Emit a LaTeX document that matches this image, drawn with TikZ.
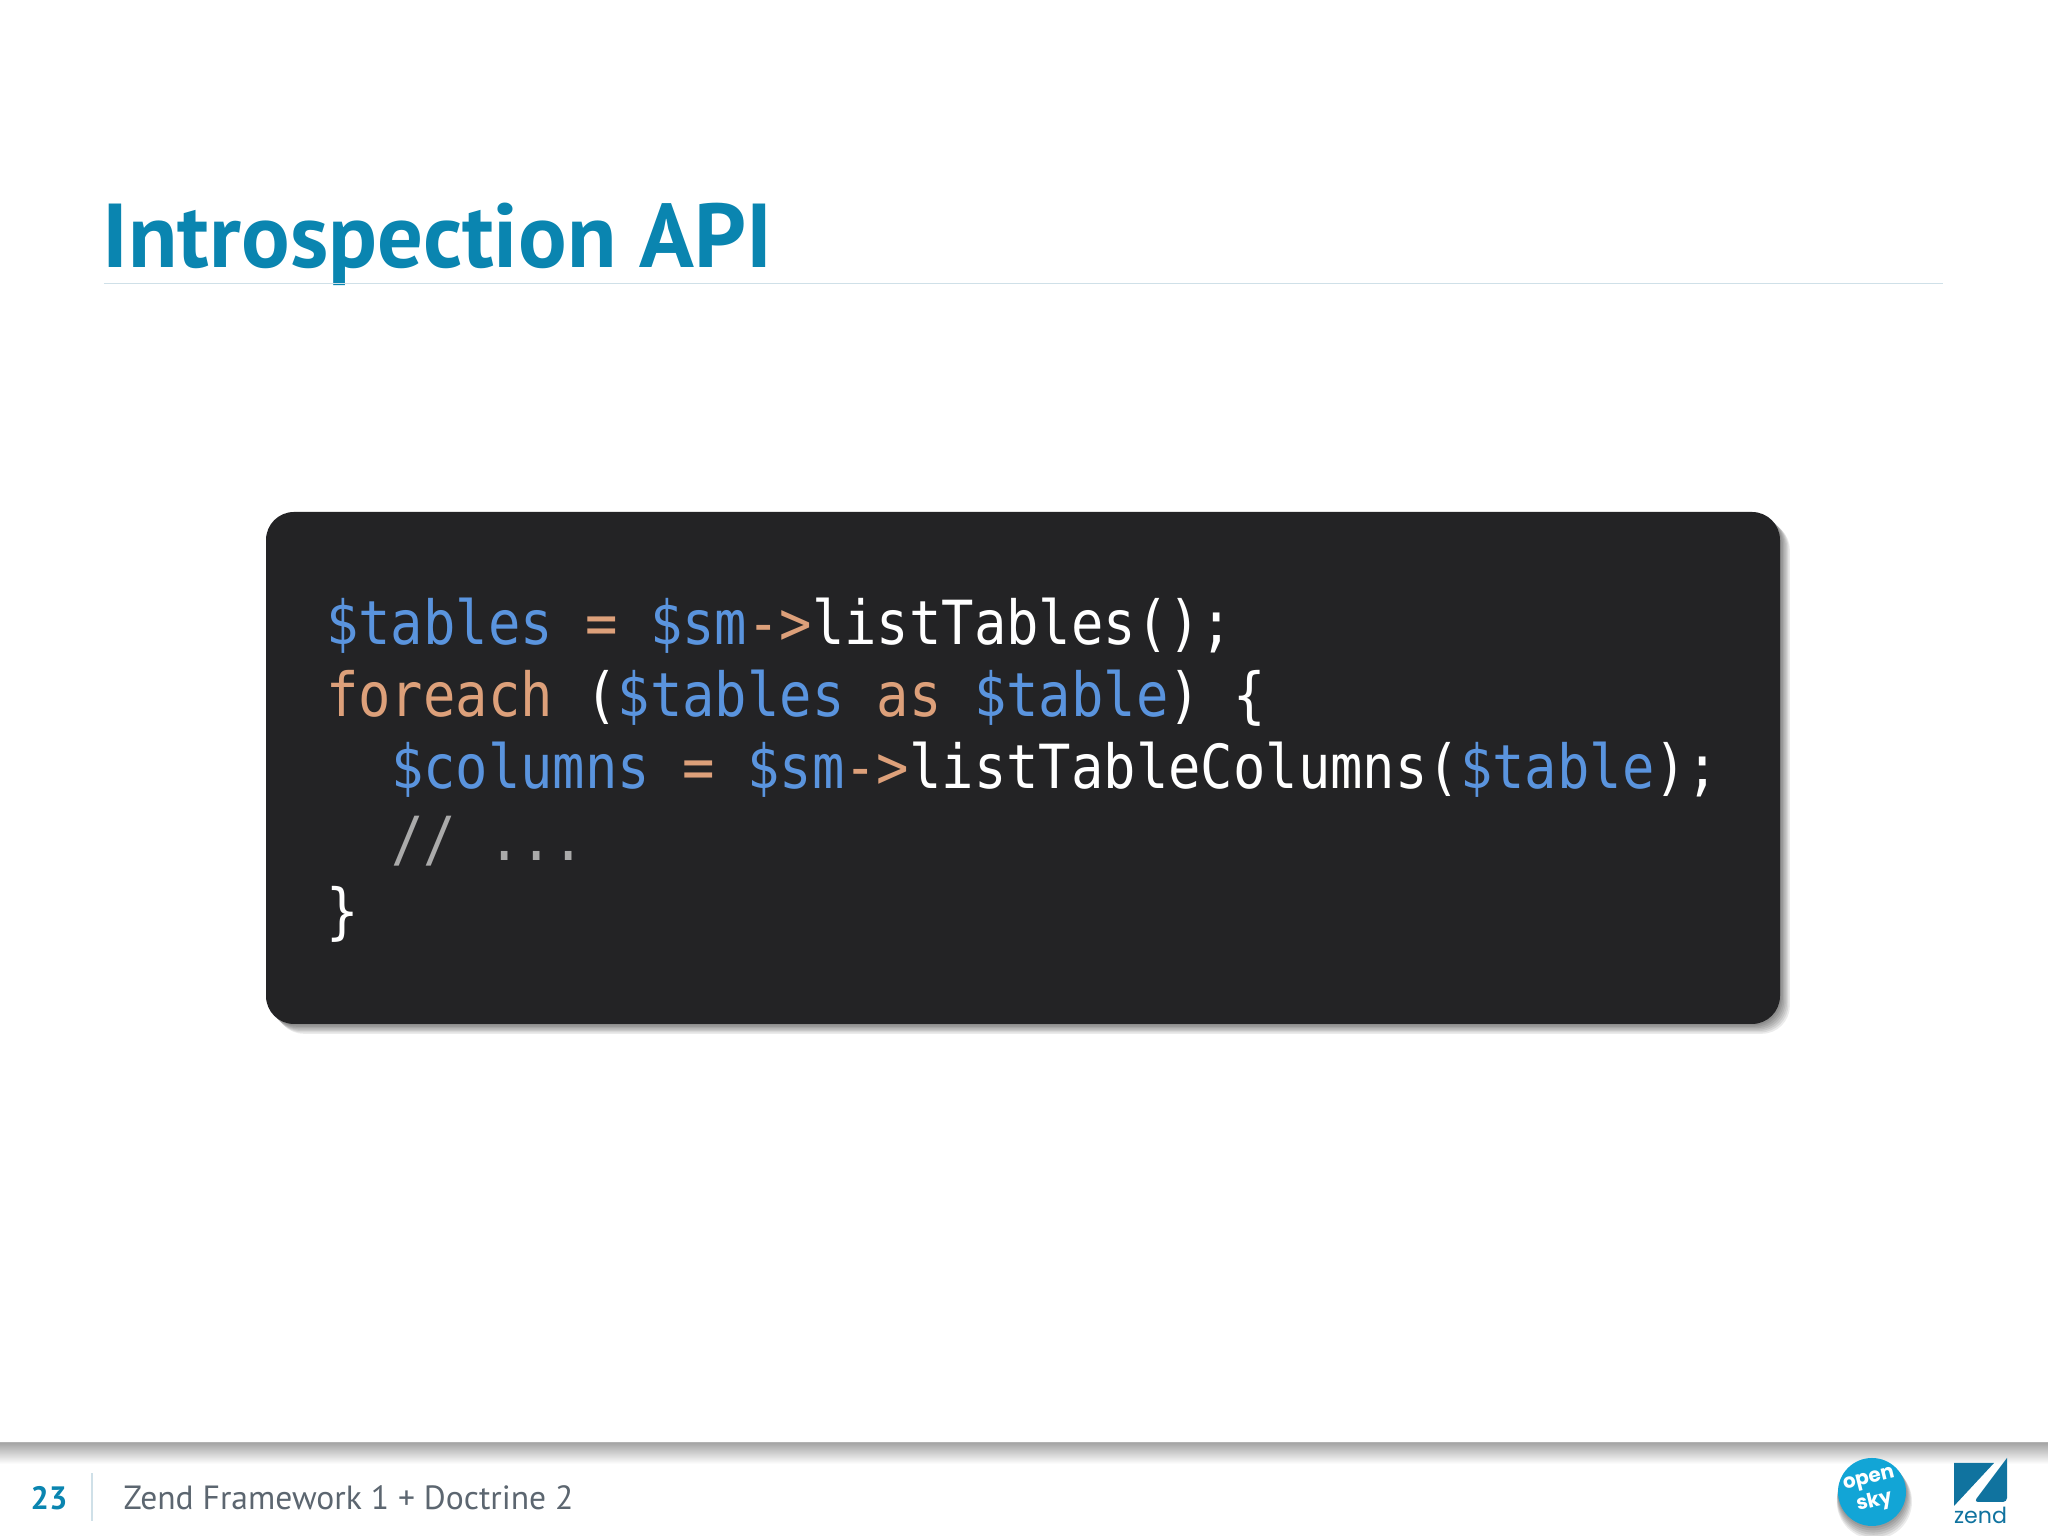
\documentclass[tikz,border=0pt]{standalone}
\usepackage{fontspec}
\setmainfont{PT Sans}
\newfontfamily\codefont[FakeStretch=0.885]{DejaVu Sans Mono}
\newfontfamily\logofont{Poppins}
\usetikzlibrary{positioning}
\definecolor{titleblue}{HTML}{0A85B0}
\definecolor{rulegrey}{HTML}{CFE0E8}
\definecolor{boxblack}{HTML}{232325}
\definecolor{varblue}{HTML}{5A94DE}
\definecolor{keyorange}{HTML}{DDA07A}
\definecolor{commentgrey}{HTML}{AAAAAA}
\definecolor{footgrey}{HTML}{5C6670}
\definecolor{skyblue}{HTML}{12A5D6}
\definecolor{zendblue}{HTML}{10739F}
\newcommand{\vr}[1]{\textcolor{varblue}{#1}}
\newcommand{\kw}[1]{\textcolor{keyorange}{#1}}
\tikzset{
    codeline/.style={anchor=base west,inner sep=0pt,text=white,font=\codefont\fontsize{17.3}{20}\selectfont},
    footer/.style={anchor=base west,inner sep=0pt,text=footgrey,font=\fontsize{9.55}{11}\selectfont},
}
\begin{document}
\begin{tikzpicture}
\useasboundingbox (0,0) rectangle (20.48,15.36);
\fill[white] (0,0) rectangle (20.48,15.36);

\node[anchor=base west,inner sep=0pt,text=titleblue,font=\bfseries\fontsize{25.8}{30}\selectfont] (title) at (1.02,12.68) {Introspection API};
\draw[rulegrey,line width=0.5pt] (1.04,12.525) -- (19.43,12.525);

\foreach \s in {1,...,7}
    \fill[black,opacity=0.08,rounded corners=0.28cm] (2.66+0.014*\s,5.12-0.014*\s) rectangle (17.80+0.014*\s,10.24-0.014*\s);
\node[fill=boxblack,rounded corners=0.28cm,minimum width=15.14cm,minimum height=5.12cm,inner sep=0pt] (codebox) at (10.23,7.68) {};

\node[codeline] (line1) at (3.255,8.91) {\vr{\$tables} \kw{=} \vr{\$sm}\kw{->}listTables();};
\node[codeline] (line2) at (3.255,8.19) {\kw{foreach} (\vr{\$tables} \kw{as} \vr{\$table}) \{};
\node[codeline] (line3) at (3.903,7.47) {\vr{\$columns} \kw{=} \vr{\$sm}\kw{->}listTableColumns(\vr{\$table});};
\node[codeline,text=commentgrey] (line4) at (3.903,6.75) {// ...};
\node[codeline] (line5) at (3.255,6.03) {\}};

\shade[top color=black!35,bottom color=white] (0,0.93) rectangle (20.48,0.72);
\fill[black!30] (0,0.925) rectangle (20.48,0.94);

\node[anchor=base west,inner sep=0pt,text=titleblue,font=\bfseries\fontsize{9.2}{11}\selectfont] (page) at (0.30,0.26) {23};
\draw[rulegrey,line width=0.6pt] (0.92,0.15) -- (0.92,0.63);
\node[footer] (foot) at (1.23,0.26) {Zend Framework 1 + Doctrine 2};

\foreach \s in {1,...,6}
    \fill[black,opacity=0.08] (18.72+0.004*\s,0.44-0.016*\s) circle(0.34+0.006*\s);
\node[circle,fill=skyblue,minimum size=0.68cm,inner sep=0pt] (opensky) at (18.72,0.44) {};
\node[rotate=14,align=center,inner sep=0pt,text=white,font=\logofont\bfseries\fontsize{5.7}{5.6}\selectfont] (skytext) at (opensky.center) {open\\sky};

\fill[zendblue] (19.54,15.36-14.63) -- (19.54,15.36-15.06) -- (19.94,15.36-14.63) -- cycle;
\fill[zendblue] (20.07,15.36-14.58) -- (20.07,15.36-14.96) [rounded corners=0.04cm] -- (20.07,15.36-15.02) -- (19.74,15.36-15.02) [sharp corners] -- cycle;
\node[anchor=base,inner sep=0pt,text=zendblue,font=\logofont\fontsize{6.3}{8}\selectfont] (zend) at (19.805,0.12) {zend};
\end{tikzpicture}
\end{document}
